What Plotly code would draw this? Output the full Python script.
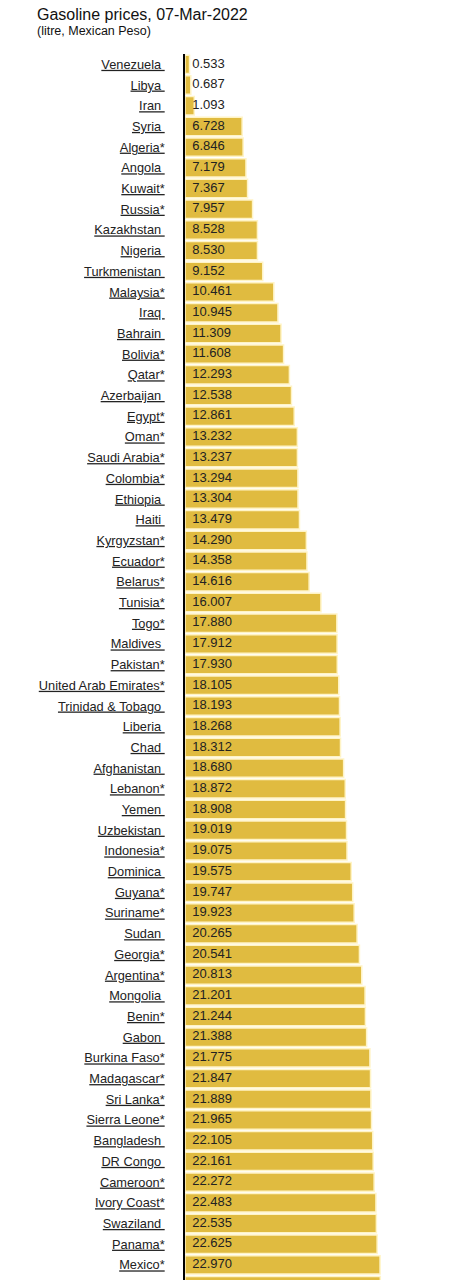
import plotly.graph_objects as go

# country names as shown (asterisk kept), last one is the bar cut off at the bottom edge
countries = [
    "Venezuela", "Libya", "Iran", "Syria", "Algeria*", "Angola", "Kuwait*", "Russia*",
    "Kazakhstan", "Nigeria", "Turkmenistan", "Malaysia*", "Iraq", "Bahrain", "Bolivia*",
    "Qatar*", "Azerbaijan", "Egypt*", "Oman*", "Saudi Arabia*", "Colombia*", "Ethiopia",
    "Haiti", "Kyrgyzstan*", "Ecuador*", "Belarus*", "Tunisia*", "Togo*", "Maldives",
    "Pakistan*", "United Arab Emirates*", "Trinidad & Tobago", "Liberia", "Chad",
    "Afghanistan", "Lebanon*", "Yemen", "Uzbekistan", "Indonesia*", "Dominica", "Guyana*",
    "Suriname*", "Sudan", "Georgia*", "Argentina*", "Mongolia", "Benin*", "Gabon",
    "Burkina Faso*", "Madagascar*", "Sri Lanka*", "Sierra Leone*", "Bangladesh", "DR Congo",
    "Cameroon*", "Ivory Coast*", "Swaziland", "Panama*", "Mexico*", "",
]

prices = [
    0.533, 0.687, 1.093, 6.728, 6.846, 7.179, 7.367, 7.957,
    8.528, 8.530, 9.152, 10.461, 10.945, 11.309, 11.608,
    12.293, 12.538, 12.861, 13.232, 13.237, 13.294, 13.304,
    13.479, 14.290, 14.358, 14.616, 16.007, 17.880, 17.912,
    17.930, 18.105, 18.193, 18.268, 18.312,
    18.680, 18.872, 18.908, 19.019, 19.075, 19.575, 19.747,
    19.923, 20.265, 20.541, 20.813, 21.201, 21.244, 21.388,
    21.775, 21.847, 21.889, 21.965, 22.105, 22.161,
    22.272, 22.483, 22.535, 22.625, 22.970, 23.0,
]

rows = list(range(len(countries)))
# names without an asterisk keep a trailing space, which is underlined too
tick_labels = [c if c.endswith("*") or c == "" else c + "\u00a0" for c in countries]
# the cut-off bar at the bottom shows no number
value_labels = ["\u00a0\u00a0" + f"{p:.3f}" for p in prices[:-1]] + [""]

fig = go.Figure()

fig.add_trace(go.Bar(
    x=prices, y=rows, orientation="h",
    marker=dict(color="#E0BB40", line=dict(color="#FFF4C6", width=1.5)),
    hoverinfo="skip",
))

fig.add_trace(go.Scatter(
    x=[0] * len(rows), y=rows, mode="text",
    text=value_labels, textposition="middle right",
    textfont=dict(family="Liberation Sans, Arial", size=13, color="#222222"),
    hoverinfo="skip",
))

fig.update_layout(
    width=461, height=1280,
    margin=dict(l=185, r=0, t=54, b=0),
    paper_bgcolor="white", plot_bgcolor="white",
    showlegend=False,
    bargap=0.11,
    font=dict(family="Liberation Sans, Arial", color="#222222"),
    annotations=[
        dict(text="Gasoline prices, 07-Mar-2022", xref="paper", yref="paper",
             x=-150 / 276, y=1 + 39 / 1226, xanchor="left", yanchor="middle",
             showarrow=False, font=dict(size=16, color="#111111")),
        dict(text="(litre, Mexican Peso)", xref="paper", yref="paper",
             x=-150 / 276, y=1 + 23 / 1226, xanchor="left", yanchor="middle",
             showarrow=False, font=dict(size=12.5, color="#111111")),
    ],
)

fig.update_xaxes(visible=False, range=[0, 32.5], fixedrange=True)
fig.update_yaxes(
    range=[58.73, -0.5],
    tickmode="array", tickvals=rows, ticktext=tick_labels,
    tickfont=dict(family="Liberation Sans, Arial", size=12.8, color="#222222",
                  lineposition="under"),
    ticks="", ticklabelstandoff=16,
    showgrid=False, zeroline=False,
    showline=True, linecolor="black", linewidth=1.5,
    fixedrange=True,
)

# drop the default 8px page margin so the figure sits at the top-left corner
fig.write_html("out.html", config={"displayModeBar": False},
               post_script="document.body.style.margin='0';")
